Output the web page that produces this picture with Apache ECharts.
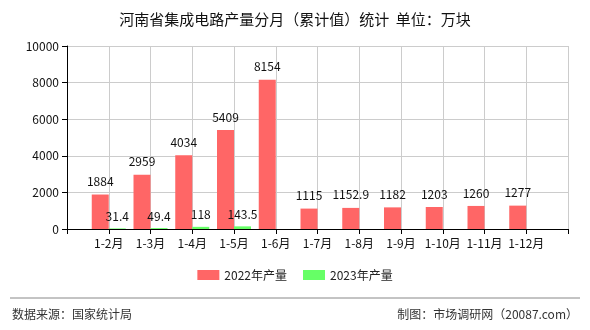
<!DOCTYPE html>
<html>
<head>
<meta charset="utf-8">
<script src="https://cdn.jsdelivr.net/npm/echarts@6/dist/echarts.min.js"></script>
<style>
  html, body { margin: 0; padding: 0; background: #fff; }
  #chart { width: 590px; height: 330px; }
</style>
</head>
<body>
<div id="chart"></div>
<script>
// 空首尾类目用于让柱子落在刻度线上
const months = ["", "1-2月", "1-3月", "1-4月", "1-5月", "1-6月", "1-7月", "1-8月", "1-9月", "1-10月", "1-11月", "1-12月", ""];
const output2022 = [null, 1884, 2959, 4034, 5409, 8154, 1115, 1152.9, 1182, 1203, 1260, 1277, null];
const output2023 = [null, 31.4, 49.4, 118, 143.5, null, null, null, null, null, null, null, null];
const yTicks = [0, 2000, 4000, 6000, 8000, 10000];

const FONT = "Noto Sans CJK SC";
const RED = "#ff6666";
const GREEN = "#66ff66";

const chart = echarts.init(document.getElementById("chart"));

chart.setOption({
  animation: false,
  backgroundColor: "#fff",
  textStyle: { fontFamily: FONT },
  title: {
    text: "河南省集成电路产量分月（累计值）统计  单位：万块",
    left: "center",
    top: 7,
    textStyle: { fontFamily: FONT, fontSize: 15, fontWeight: "normal", color: "#111" },
  },
  grid: { left: 67, right: 22, top: 46, bottom: 101, containLabel: false },
  legend: {
    bottom: 44,
    left: "center",
    itemWidth: 22,
    itemHeight: 10,
    itemGap: 16,
    icon: "rect",
    textStyle: { fontFamily: FONT, fontSize: 12, color: "#222" },
    data: ["2022年产量", "2023年产量"],
  },
  xAxis: {
    type: "category",
    data: months,
    boundaryGap: false,
    axisLine: { lineStyle: { color: "#000" } },
    axisTick: { show: true, lineStyle: { color: "#000" } },
    axisLabel: { color: "#111", fontSize: 12, interval: 0, margin: 8, fontFamily: FONT },
    splitLine: { show: true, lineStyle: { color: "#cccccc" } },
  },
  yAxis: {
    type: "value",
    min: yTicks[0],
    max: yTicks[yTicks.length - 1],
    interval: yTicks[1] - yTicks[0],
    axisLine: { show: true, lineStyle: { color: "#000" } },
    axisTick: { show: true, lineStyle: { color: "#000" } },
    axisLabel: { color: "#111", fontSize: 12, margin: 8, fontFamily: FONT, formatter: (v) => String(v) },
    splitLine: { lineStyle: { color: "#cccccc" } },
  },
  series: [
    {
      name: "2022年产量",
      type: "bar",
      data: output2022,
      barWidth: 17,
      barGap: "0%",
      itemStyle: { color: RED },
      label: { show: true, position: "top", distance: 7, color: "#111", fontSize: 12, fontFamily: FONT },
    },
    {
      name: "2023年产量",
      type: "bar",
      data: output2023,
      barWidth: 17,
      barGap: "0%",
      itemStyle: { color: GREEN },
      label: { show: true, position: "top", distance: 6, color: "#111", fontSize: 12, fontFamily: FONT },
    },
  ],
  graphic: [
    {
      type: "line",
      shape: { x1: 10, y1: 298, x2: 580, y2: 298 },
      style: { stroke: "#888", lineWidth: 1 },
    },
    {
      type: "text",
      left: 12,
      top: 308,
      style: { text: "数据来源：国家统计局", fontFamily: FONT, fontSize: 12, fill: "#333" },
    },
    {
      type: "text",
      right: 12,
      top: 308,
      style: { text: "制图：市场调研网（20087.com）", fontFamily: FONT, fontSize: 12, fill: "#333" },
    },
  ],
});
</script>
</body>
</html>
